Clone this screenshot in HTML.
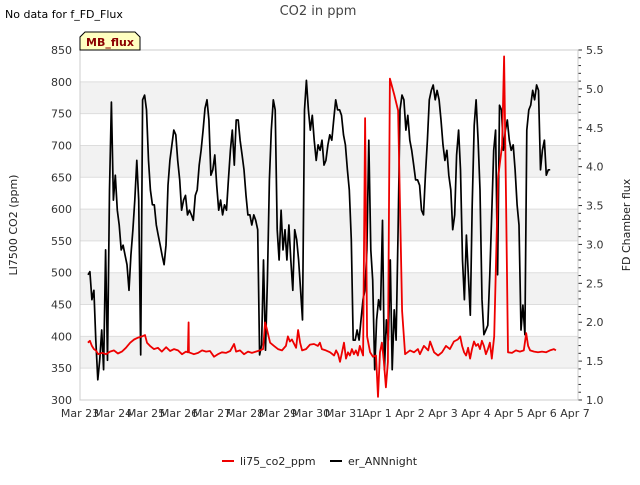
<!DOCTYPE html>
<html><head><meta charset="utf-8"><style>
body{margin:0;background:#fff;font-family:"Liberation Sans","DejaVu Sans",sans-serif;}
svg text{font-family:"DejaVu Sans","Liberation Sans",sans-serif;}
</style></head><body>
<svg id="c" width="640" height="480" xmlns="http://www.w3.org/2000/svg">
<text x="5" y="18" font-size="11" fill="#000">No data for f_FD_Flux</text>
<text x="318" y="15" font-size="13" fill="#444" text-anchor="middle">CO2 in ppm</text>
<g id="bands"></g><g id="grid"></g>
<g id="series"></g>
<g id="axes"></g>
<text transform="translate(17,225) rotate(-90)" font-size="11" text-anchor="middle" fill="#222">LI7500 CO2 (ppm)</text>
<text transform="translate(630,225) rotate(-90)" font-size="11" text-anchor="middle" fill="#222">FD Chamber flux</text>
<g>
<path d="M80,50 L80,37 L85,32 L135,32 L140,37 L140,50 Z" fill="#ffffc0" stroke="#000" stroke-width="1"/>
<text x="110" y="46" font-size="11" font-weight="bold" fill="#8b0000" text-anchor="middle">MB_flux</text>
</g>
<g>
<line x1="222" y1="461" x2="234" y2="461" stroke="#e00" stroke-width="2"/>
<text x="240" y="465" font-size="11" fill="#222">li75_co2_ppm</text>
<line x1="330" y1="461" x2="342" y2="461" stroke="#000" stroke-width="2"/>
<text x="348" y="465" font-size="11" fill="#222">er_ANNnight</text>
</g>
</svg>
<script>
const xLabels=["Mar 23","Mar 24","Mar 25","Mar 26","Mar 27","Mar 28","Mar 29","Mar 30","Mar 31","Apr 1","Apr 2","Apr 3","Apr 4","Apr 5","Apr 6","Apr 7"];
const leftTicks=[300,350,400,450,500,550,600,650,700,750,800,850];
const rightTicks=[1.0,1.5,2.0,2.5,3.0,3.5,4.0,4.5,5.0,5.5];
const co2Days=[0.24,0.30,0.36,0.42,0.48,0.55,0.67,0.79,0.91,1.03,1.15,1.27,1.39,1.52,1.64,1.76,1.88,1.97,2.03,2.12,2.24,2.36,2.48,2.61,2.73,2.85,2.97,3.09,3.21,3.27,3.29,3.30,3.45,3.58,3.70,3.82,3.94,4.06,4.18,4.30,4.42,4.55,4.67,4.73,4.85,4.97,5.09,5.21,5.33,5.45,5.55,5.61,5.67,5.76,5.88,6.00,6.12,6.24,6.30,6.36,6.42,6.55,6.61,6.67,6.73,6.85,6.97,7.09,7.21,7.27,7.33,7.45,7.58,7.70,7.76,7.82,7.88,7.94,8.00,8.06,8.12,8.18,8.24,8.30,8.36,8.42,8.48,8.58,8.64,8.70,8.79,8.88,8.97,9.03,9.09,9.15,9.21,9.27,9.33,9.39,9.52,9.64,9.76,9.85,10.00,10.12,10.24,10.30,10.42,10.55,10.61,10.73,10.85,10.97,11.09,11.21,11.33,11.45,11.52,11.58,11.64,11.70,11.76,11.82,11.88,11.94,12.00,12.06,12.12,12.18,12.24,12.30,12.36,12.42,12.48,12.55,12.67,12.79,12.85,12.91,12.97,13.09,13.21,13.33,13.45,13.52,13.58,13.64,13.76,13.88,14.00,14.12,14.24,14.36,14.42];
const co2Values=[390,393,385,380,378,372,374,372,376,378,373,376,382,390,395,398,400,402,390,385,380,382,376,383,377,380,378,372,376,375,422,375,372,374,378,376,377,368,372,375,374,377,388,376,378,372,376,374,376,378,380,422,410,390,385,380,378,385,400,392,395,382,410,390,378,380,387,388,385,390,380,378,375,370,378,372,360,375,390,365,375,370,380,372,378,370,385,370,743,400,375,368,370,305,375,390,360,320,360,805,780,755,440,372,378,375,380,372,385,378,392,375,370,375,385,380,392,395,400,385,375,370,382,365,380,392,385,388,380,393,385,372,380,390,365,400,650,700,840,620,375,374,378,376,378,405,385,378,376,375,376,375,378,380,378];
const annStartDay=0.2424, annStepDay=0.0591;
const annValues=[2.61,2.65,2.29,2.41,1.77,1.26,1.51,1.90,1.39,2.93,1.51,3.70,4.83,3.57,3.89,3.44,3.25,2.93,2.99,2.86,2.74,2.41,2.86,3.19,3.57,4.08,3.57,1.58,4.86,4.92,4.73,4.08,3.70,3.51,3.51,3.25,3.12,2.99,2.86,2.74,2.99,3.76,4.08,4.28,4.47,4.41,4.08,3.83,3.44,3.57,3.63,3.38,3.44,3.38,3.31,3.63,3.70,4.02,4.21,4.47,4.75,4.86,4.60,3.89,3.96,4.15,3.76,3.44,3.57,3.38,3.51,3.44,3.83,4.21,4.47,4.02,4.60,4.60,4.34,4.15,3.96,3.63,3.38,3.38,3.25,3.38,3.31,3.19,1.58,1.71,2.80,1.64,2.54,3.83,4.47,4.86,4.73,3.19,2.80,3.44,2.93,3.19,2.80,3.25,2.80,2.41,3.19,3.06,2.80,2.41,2.03,4.73,5.11,4.73,4.47,4.66,4.34,4.08,4.28,4.21,4.34,4.02,4.08,4.28,4.41,4.34,4.60,4.86,4.73,4.73,4.66,4.41,4.28,3.96,3.70,3.06,1.77,1.77,1.90,1.77,2.03,2.29,2.41,2.93,4.34,2.93,2.54,1.39,2.03,2.29,2.16,3.31,1.39,2.03,1.77,2.80,1.39,2.16,1.77,3.19,4.73,4.92,4.86,4.47,4.66,4.34,4.21,4.02,3.83,3.83,3.76,3.44,3.38,3.89,4.34,4.86,4.98,5.05,4.86,4.98,4.86,4.60,4.28,4.08,4.21,3.89,3.70,3.19,3.38,4.15,4.47,3.96,2.80,2.29,3.12,2.61,2.09,3.51,4.53,4.86,4.34,3.70,2.29,1.84,1.90,1.96,2.61,3.38,4.21,4.47,2.61,4.79,4.73,4.21,4.47,4.60,4.34,4.21,4.28,3.96,3.51,3.25,1.90,2.22,1.84,4.47,4.73,4.79,4.98,4.86,5.05,4.98,3.96,4.21,4.34,3.89,3.96,3.96];

const X0=80,X1=578,Y0=50,Y1=400,DAYPX=33;
const xs=d=>X0+d*DAYPX;
const yL=v=>Y1-(v-300)/550*(Y1-Y0);
const yR=v=>Y1-(v-1)/4.5*(Y1-Y0);
const NS="http://www.w3.org/2000/svg";
function mk(tag,attrs,parent){const e=document.createElementNS(NS,tag);for(const k in attrs)e.setAttribute(k,attrs[k]);parent.appendChild(e);return e;}
const bands=document.getElementById('bands'),grid=document.getElementById('grid'),axes=document.getElementById('axes'),series=document.getElementById('series');
for(let i=0;i<leftTicks.length-1;i++){
  if(i%2===1){const r=mk('rect',{x:X0,y:yL(leftTicks[i+1]),width:X1-X0,height:yL(leftTicks[i])-yL(leftTicks[i+1]),fill:'#f2f2f2'},bands);
  
  }
}
leftTicks.forEach(v=>{
  const l=mk('line',{x1:X0,x2:X1,y1:yL(v),y2:yL(v),stroke:'#ddd','stroke-width':1},grid);
  
  
  const t=mk('text',{x:72,y:yL(v)+4,'font-size':11,'text-anchor':'end',fill:'#333'},axes);
  t.textContent=v;
  
  
});
rightTicks.forEach(v=>{
  const t=mk('text',{x:586,y:yR(v)+4,'font-size':11,fill:'#333'},axes);
  t.textContent=v.toFixed(1);
  
  
});
for(let k=0;k<=45;k++){const v=1+k*0.1;const big=k%5===0;
  const l=mk('line',{x1:X1,x2:X1+(big?4:3),y1:yR(v),y2:yR(v),stroke:'#333','stroke-width':1},axes);
  
  }
xLabels.forEach((s,i)=>{
  const t=mk('text',{x:xs(i),y:417,'font-size':11,'text-anchor':'middle',fill:'#333'},axes);
  t.textContent=s;
  
  
});
const fr=mk('rect',{x:X0,y:Y0,width:X1-X0,height:Y1-Y0,fill:'none',stroke:'#ccc','stroke-width':1},axes);


let pb=annValues.map((v,i)=>(i?'L':'M')+xs(annStartDay+i*annStepDay).toFixed(1)+','+yR(v).toFixed(1)).join('');
const ann=mk('path',{d:pb,fill:'none',stroke:'#000','stroke-width':1.7,'stroke-linejoin':'round'},series);


let pr=co2Values.map((v,i)=>(i?'L':'M')+xs(co2Days[i]).toFixed(1)+','+yL(v).toFixed(1)).join('');
const co2=mk('path',{d:pr,fill:'none',stroke:'#e00','stroke-width':1.8,'stroke-linejoin':'round'},series);


</script>
</body></html>
